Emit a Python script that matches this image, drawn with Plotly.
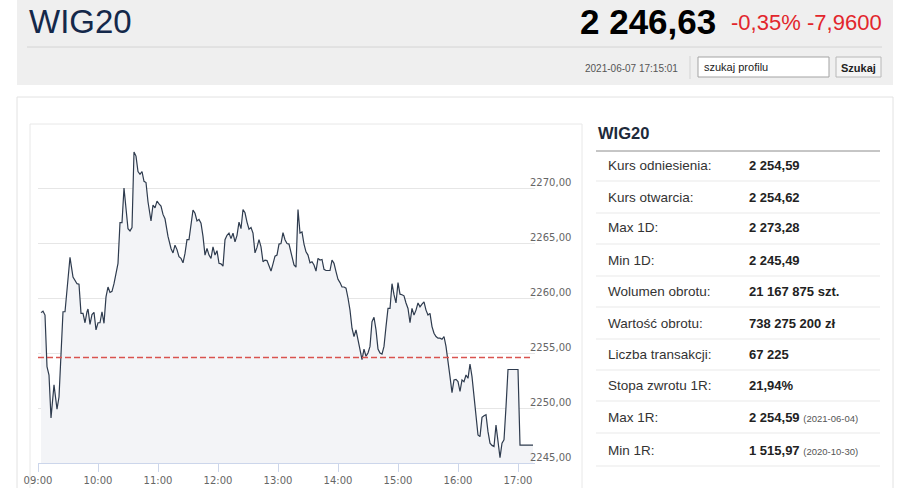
import plotly.graph_objects as go

W, H = 912, 488

# intraday WIG20 quotes, 2021-06-07
TIMES = [
    "09:03", "09:05", "09:07", "09:09", "09:11", "09:13", "09:16", "09:19", "09:21", "09:25",
    "09:27", "09:31", "09:32", "09:35", "09:37", "09:39", "09:41", "09:43", "09:45", "09:47",
    "09:49", "09:50", "09:52", "09:54", "09:56", "09:58",
    "10:00", "10:02", "10:04", "10:06", "10:08", "10:10", "10:12", "10:14", "10:16", "10:18",
    "10:20", "10:22", "10:24", "10:26", "10:28", "10:30", "10:32", "10:34", "10:36", "10:38",
    "10:40", "10:42", "10:44", "10:46", "10:48", "10:50", "10:53", "10:55", "10:57", "10:59",
    "11:01", "11:03", "11:05", "11:07", "11:10", "11:13", "11:15", "11:17", "11:19", "11:21",
    "11:23", "11:25", "11:27", "11:29", "11:31", "11:33", "11:35", "11:37", "11:39", "11:41",
    "11:43", "11:45", "11:47", "11:49", "11:51", "11:53", "11:55", "11:57", "11:59",
    "12:01", "12:03", "12:05", "12:07", "12:09", "12:11", "12:13", "12:15", "12:17", "12:19",
    "12:21", "12:23", "12:25", "12:27", "12:29", "12:31", "12:33", "12:35", "12:37", "12:39",
    "12:41", "12:43", "12:45", "12:47", "12:49", "12:51", "12:53", "12:55", "12:57", "12:59",
    "13:01", "13:03", "13:05", "13:07", "13:09", "13:11", "13:14", "13:16", "13:18", "13:20",
    "13:22", "13:24", "13:26", "13:28", "13:30", "13:32", "13:34", "13:36", "13:38", "13:40",
    "13:42", "13:44", "13:46", "13:48", "13:50", "13:52", "13:54", "13:56", "13:58",
    "14:00", "14:02", "14:04", "14:06", "14:08", "14:10", "14:12", "14:14", "14:16", "14:18",
    "14:20", "14:22", "14:24", "14:26", "14:28", "14:30", "14:32", "14:34", "14:36", "14:38",
    "14:40", "14:42", "14:44", "14:46", "14:48", "14:50", "14:52", "14:54", "14:56", "14:58",
    "15:00", "15:02", "15:04", "15:06", "15:08", "15:10", "15:12", "15:14", "15:16", "15:18",
    "15:20", "15:22", "15:24", "15:26", "15:28", "15:30", "15:32", "15:34", "15:36", "15:38",
    "15:40", "15:42", "15:44", "15:46", "15:48", "15:50", "15:52", "15:54", "15:56", "15:58",
    "16:00", "16:02", "16:04", "16:06", "16:08", "16:10", "16:12", "16:14", "16:16", "16:18",
    "16:20", "16:22", "16:24", "16:26", "16:28", "16:30", "16:32", "16:34", "16:36", "16:38",
    "16:40", "16:42", "16:44", "16:46", "16:48", "16:50", "17:00", "17:02", "17:15",
]

PRICES = [
    2258.67, 2258.80, 2258.45, 2253.75, 2253.00, 2249.10, 2252.10, 2249.90, 2251.00, 2258.75,
    2258.75, 2263.30, 2263.70, 2261.90, 2261.60, 2261.30, 2261.25, 2258.60, 2258.60, 2257.75,
    2258.75, 2259.00, 2257.60, 2258.50, 2258.70, 2257.10,
    2257.75, 2257.75, 2258.75, 2257.70, 2260.10, 2261.00, 2260.50, 2260.60, 2261.30, 2262.10,
    2263.15, 2266.85, 2266.85, 2270.00, 2268.00, 2266.30, 2266.10, 2266.40, 2273.28, 2272.90,
    2271.50, 2271.25, 2271.50, 2270.60, 2270.50, 2268.75, 2267.00, 2268.45, 2268.20, 2268.80,
    2268.55, 2268.35, 2267.60, 2267.20, 2265.60, 2264.50, 2264.10, 2264.80, 2264.40, 2263.75,
    2263.60, 2263.20, 2264.05, 2265.30, 2265.30, 2266.80, 2268.00, 2267.70, 2267.00, 2267.15,
    2266.80, 2265.60, 2263.90, 2264.50, 2263.90, 2263.60, 2264.65, 2263.90, 2264.30,
    2263.15, 2263.10, 2262.90, 2265.30, 2265.70, 2265.90, 2265.40, 2265.90, 2265.10, 2265.70,
    2266.90, 2266.30, 2268.05, 2267.75, 2266.90, 2266.25, 2266.40, 2265.90, 2264.10, 2264.60,
    2265.30, 2264.65, 2263.30, 2263.45, 2263.40, 2262.90, 2262.45, 2263.10, 2263.80, 2263.90,
    2264.90, 2264.95, 2265.95, 2265.30, 2264.95, 2264.90, 2263.90, 2263.00, 2262.80, 2268.05,
    2265.90, 2266.00, 2264.90, 2264.20, 2263.90, 2263.20, 2263.30, 2263.00, 2262.45, 2263.60,
    2263.45, 2263.50, 2262.60, 2262.50, 2262.50, 2262.50, 2263.45, 2263.15, 2262.40,
    2261.70, 2261.40, 2261.00, 2261.00, 2260.90, 2260.00, 2258.90, 2257.25, 2256.50, 2257.10,
    2256.00, 2255.30, 2254.40, 2255.35, 2254.70, 2255.00, 2255.60, 2257.85, 2258.25, 2257.10,
    2255.35, 2255.00, 2254.90, 2255.60, 2257.40, 2259.05, 2259.05, 2261.30, 2260.30, 2259.55,
    2261.40, 2260.35, 2260.30, 2260.20, 2259.55, 2259.05, 2257.75, 2259.05, 2258.45, 2258.90,
    2259.55, 2259.20, 2259.45, 2259.65, 2258.90, 2258.45, 2258.60, 2257.40, 2256.80, 2256.50,
    2256.35, 2256.35, 2256.25, 2256.50, 2255.60, 2254.40, 2252.85, 2251.40, 2252.55, 2252.60,
    2252.40, 2251.50, 2252.55, 2252.40, 2253.00, 2252.70, 2254.00, 2252.85, 2251.20, 2249.50,
    2247.55, 2247.40, 2249.15, 2249.30, 2249.40, 2247.85, 2246.80, 2246.60, 2246.50, 2248.45,
    2246.95, 2245.49, 2246.80, 2247.10, 2250.10, 2253.50, 2253.50, 2246.63, 2246.63,
]

SESSION_DAY = "2021-06-07"
REF_LEVEL = 2254.59
Y_GRID = [2245, 2250, 2255, 2260, 2265, 2270, 2275]

NAME = "WIG20"
LAST = "2 246,63"
CHANGE_PCT = "-0,35%"
CHANGE_ABS = "-7,9600"
STAMP = "2021-06-07 17:15:01"

STAT_LABELS = [
    "Kurs odniesienia:", "Kurs otwarcia:", "Max 1D:", "Min 1D:", "Wolumen obrotu:",
    "Wartość obrotu:", "Liczba transakcji:", "Stopa zwrotu 1R:", "Max 1R:", "Min 1R:",
]
STAT_VALUES = [
    "2 254,59", "2 254,62", "2 273,28", "2 245,49", "21 167 875 szt.",
    "738 275 200 zł", "67 225", "21,94%", "2 254,59", "1 515,97",
]
STAT_NOTES = ["", "", "", "", "", "", "", "", "(2021-06-04)", "(2020-10-30)"]


def px(x):
    return x / W

def py(y):
    return 1 - y / H

def box(x0, y0, x1, y1, fill, line="rgba(0,0,0,0)", width=1):
    return dict(type="rect", xref="paper", yref="paper", layer="below",
                x0=px(x0), x1=px(x1), y0=py(y1), y1=py(y0),
                fillcolor=fill, line=dict(color=line, width=width))

def hline(x0, x1, y, color, width=1):
    return dict(type="line", xref="paper", yref="paper", layer="below",
                x0=px(x0), x1=px(x1), y0=py(y), y1=py(y),
                line=dict(color=color, width=width))

def label(x, y, text, size, color="#333", anchor="left", family="Liberation Sans"):
    return dict(xref="paper", yref="paper", x=px(x), y=py(y), text=text,
                showarrow=False, xanchor=anchor, yanchor="middle",
                font=dict(family=family, size=size, color=color))


stamps = [f"{SESSION_DAY} {t}" for t in TIMES]

fig = go.Figure()

fig.add_trace(go.Scatter(
    x=stamps,
    y=PRICES,
    mode="lines",
    line=dict(color="#2e3b4e", width=1.2),
    fill="tozeroy",
    fillcolor="#f3f4f7",
    hoverinfo="skip",
))

shapes = [
    box(17, 0, 893, 85, "#efefef"),
    hline(27, 882, 47, "#d4d4d4"),
    dict(type="line", xref="paper", yref="paper", layer="below",
         x0=px(690), x1=px(690), y0=py(79), y1=py(56), line=dict(color="#d3d3d3", width=1)),
    box(698, 57, 829, 77, "white", "#a3a3a3"),
    box(836, 57, 881, 77, "#f5f5f5", "#b8b8b8"),
    box(17, 97, 893, 492, "white", "#e2e2e2"),
    box(30, 124, 582, 492, "white", "#e8e8e8"),
    hline(596, 880, 151, "#8c8c8c"),
    # reference price (Kurs odniesienia)
    dict(type="line", xref="x domain", yref="y", layer="above",
         x0=0, x1=0.99, y0=REF_LEVEL, y1=REF_LEVEL,
         line=dict(color="#d9534f", width=1.5, dash="6px,3px")),
]

row_y = [165, 197, 228, 260, 291, 323, 354, 385, 417, 450]
for y in row_y:
    shapes.append(hline(596, 880, y + 16, "#e9e9e9"))

annotations = [
    label(27, 21, NAME, 33, "#14284a"),
    label(578, 21, f"<b>{LAST}</b>", 35, "#000"),
    label(729, 23, CHANGE_PCT, 22, "#e2262c"),
    label(884, 23, CHANGE_ABS, 22, "#e2262c", anchor="right"),
    label(680, 68, STAMP, 10, "#555", anchor="right"),
    label(702, 67, "szukaj profilu", 11, "#222"),
    label(858.5, 68, "<b>Szukaj</b>", 11, "#222", anchor="center"),
    label(596, 133, f"<b>{NAME}</b>", 16.5, "#1e2a3a"),
]

for y, name, value, note in zip(row_y, STAT_LABELS, STAT_VALUES, STAT_NOTES):
    annotations.append(label(606, y, name, 13.5, "#333"))
    text = f"<b>{value}</b>"
    if note:
        text += f" <span style='font-size:9.5px;color:#555'>{note}</span>"
    annotations.append(label(747, y, text, 13, "#222"))

fig.update_layout(
    template="none",
    width=W,
    height=H,
    autosize=False,
    margin=dict(l=0, r=0, t=0, b=0, pad=0, autoexpand=False),
    paper_bgcolor="white",
    plot_bgcolor="rgba(0,0,0,0)",
    separators=", ",
    showlegend=False,
    shapes=shapes,
    annotations=annotations,
    xaxis=dict(
        domain=[px(38), px(535)],
        type="date",
        range=[f"{SESSION_DAY} 09:00", f"{SESSION_DAY} 17:17"],
        tick0=f"{SESSION_DAY} 09:00",
        dtick=3600000,
        tickformat="%H:%M",
        showgrid=False,
        showline=True,
        linecolor="#ccd6eb",
        ticks="outside",
        ticklen=8,
        tickcolor="#ccd6eb",
        tickfont=dict(family="DejaVu Sans", size=10, color="#666"),
        automargin=False,
        fixedrange=True,
    ),
    yaxis=dict(
        domain=[py(463), py(133)],
        range=[2245, 2275],
        side="right",
        tickvals=Y_GRID,
        ticktext=[f"{v:.2f}".replace(".", ",") if v < 2275 else "" for v in Y_GRID],
        showgrid=True,
        gridcolor="#e6e6e6",
        gridwidth=1,
        zeroline=False,
        showline=False,
        ticks="",
        ticklabelstandoff=-6,
        ticklabelshift=-6,
        tickfont=dict(family="DejaVu Sans", size=10, color="#666"),
        automargin=False,
        fixedrange=True,
    ),
)

# the page's default 8px body margin would push the figure off the window
fig.write_html(
    "out.html",
    config={"displayModeBar": False},
    post_script="document.body.style.margin = '0'; document.body.style.overflow = 'hidden';",
)
